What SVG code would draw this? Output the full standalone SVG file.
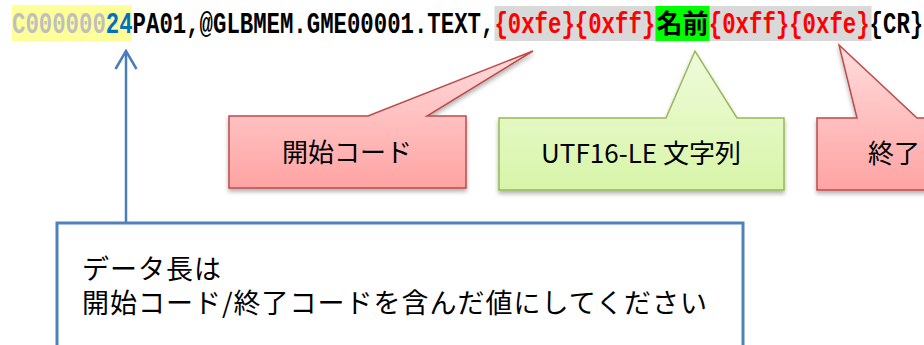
<svg xmlns="http://www.w3.org/2000/svg" width="924" height="345" viewBox="0 0 924 345">
<style>
.hdr{font-family:"Liberation Mono","Courier New",monospace;font-size:29px;font-weight:bold;}
.cjk{font-family:"Noto Sans CJK JP","Noto Sans",sans-serif;}
.blk{fill:#000000;}
.lbl{font-family:"Noto Sans CJK JP","Noto Sans",sans-serif;font-size:26px;fill:#000;text-anchor:middle;}
.co-red{fill:url(#gRed);stroke:#be4b48;stroke-width:1.5;filter:url(#sh);}
.co-grn{fill:url(#gGrn);stroke:#98b954;stroke-width:1.5;filter:url(#sh);}
.conn{stroke:#4a7ebb;stroke-width:2.5;fill:none;}
</style>
<defs>
<linearGradient id="gRed" x1="0" y1="0" x2="0" y2="1">
<stop offset="0" stop-color="#ffdcdc"/>
<stop offset="1" stop-color="#ffa3a3"/>
</linearGradient>
<linearGradient id="gGrn" x1="0" y1="0" x2="0" y2="1">
<stop offset="0" stop-color="#f0fbdc"/>
<stop offset="1" stop-color="#d7f5a8"/>
</linearGradient>
<filter id="sh" x="-10%" y="-10%" width="120%" height="130%">
<feDropShadow dx="0" dy="3" stdDeviation="2" flood-color="#000" flood-opacity="0.3"/>
</filter>
<marker id="open" viewBox="0 0 24 24" refX="22" refY="12" markerWidth="24" markerHeight="24" markerUnits="userSpaceOnUse" orient="auto">
<path d="M4,1.5 L22,12 L4,22.5" fill="none" stroke="#4a7ebb" stroke-width="2.5"/>
</marker>
</defs>
<rect width="924" height="345" fill="#ffffff"/>

<g id="header">
<rect x="12" y="5" width="120" height="36" fill="#ffff99"/>
<rect x="494.5" y="6" width="377" height="35" fill="#d9d9d9"/>
<rect x="655.5" y="6" width="54" height="35" fill="#00ff00"/>
<g transform="scale(0.77011,1)">
<text class="hdr" y="33.5"><tspan x="15.58" fill="#bfbfbf">C000000</tspan><tspan x="137.38" fill="#0070c0">24</tspan><tspan x="172.18" fill="#000">PA01,@GLBMEM.GME00001.TEXT,</tspan><tspan x="641.98" fill="#ff0000">{0xfe}</tspan><tspan x="746.38" fill="#ff0000">{0xff}</tspan><tspan x="920.38" fill="#ff0000">{0xff}</tspan><tspan x="1024.78" fill="#ff0000">{0xfe}</tspan><tspan x="1129.18" fill="#000">{CR}</tspan></text>
</g>
<text class="cjk blk" x="656.5" y="33" font-size="26" font-weight="bold">名前</text>
</g>

<g id="callout-start">
<path class="co-red" d="M229,116 L368,116 L533,51 L427,116 L466,116 L466,188 L229,188 Z"/>
<text class="lbl" x="347" y="162">開始コード</text>
</g>

<g id="callout-utf16">
<path class="co-grn" d="M499,118 L666,118 L695,51 L737,118 L784,118 L784,190 L499,190 Z"/>
<text class="lbl" x="641" y="163">UTF16-LE 文字列</text>
</g>

<g id="callout-end">
<path class="co-red" d="M817,118 L857,118 L839,45 L917,118 L960,118 L960,190 L817,190 Z"/>
<text class="lbl" x="868" y="163" style="text-anchor:start">終了</text>
</g>

<g id="note">
<rect x="57" y="223" width="686" height="140" fill="#ffffff" stroke="#4f81bd" stroke-width="3"/>
<text class="cjk blk" font-size="27" letter-spacing="1"><tspan x="82" y="279">データ長は</tspan><tspan x="82" y="313">開始コード/終了コードを含んだ値にしてください</tspan></text>
</g>

<g id="connectors">
<line class="conn" x1="126" y1="222" x2="126" y2="51" marker-end="url(#open)"/>
</g>
</svg>
